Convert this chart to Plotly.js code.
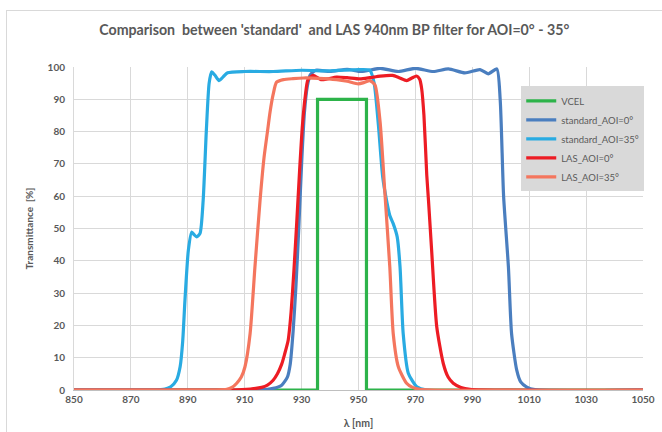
<!DOCTYPE html>
<html>
<head>
<meta charset="utf-8">
<script src="https://cdn.plot.ly/plotly-3.0.1.min.js"></script>
<style>
  html, body { margin: 0; padding: 0; background: #ffffff; }
  #frame { position: absolute; left: 6px; top: 10px; width: 700px; height: 460px; border: 1px solid #d9d9d9; box-sizing: border-box; }
  #chart { position: absolute; left: 0; top: 0; width: 662px; height: 432px; }
</style>
</head>
<body>
<div id="frame"></div>
<div id="chart"></div>
<script>
// ---- data ----
const xTickVals = [850, 870, 890, 910, 930, 950, 970, 990, 1010, 1030, 1050];
const yTickVals = [0, 10, 20, 30, 40, 50, 60, 70, 80, 90, 100];

const vcelX = [850, 935.6, 935.6, 952.8, 952.8, 1050];
const vcelY = [0, 0, 90, 90, 0, 0];

const std0X = [850, 915, 920, 923, 925, 926, 927, 928, 929, 930, 931, 932, 933, 935, 940, 946, 951, 957.6, 964, 970, 976.3, 981.6, 987.4, 992.7, 995.6, 998.6, 999.8, 1001, 1002.7, 1003.8, 1005.6, 1007, 1009, 1012, 1050];
const std0Y = [0, 0, 0.5, 1.5, 4, 8, 18, 32, 50, 70, 86, 94, 97.5, 99, 98.6, 99.3, 98.6, 99.6, 98.6, 99.6, 98.6, 99.4, 98.2, 99.2, 97.9, 99.4, 90, 60, 38, 17.5, 6.2, 2.5, 1, 0.1, 0];

const std35X = [850, 878, 882, 884, 886, 887.3, 888.2, 889, 890.2, 891.4, 892.3, 893.1, 894.3, 895.4, 896.5, 897.5, 898.4, 899.5, 901, 902.5, 904, 910, 920, 930, 940, 950, 954, 955.5, 957, 958.5, 960, 961, 962.2, 963.6, 964.6, 965.7, 967.5, 970.5, 974, 1050];
const std35Y = [0, 0, 0.3, 1, 3, 7.2, 15, 27.8, 43.3, 48.9, 48, 47.4, 48.5, 58.7, 80, 95, 98.5, 97.5, 95.8, 97, 98.2, 98.6, 98.6, 99, 98.8, 99.2, 99, 95, 82, 66, 58, 54, 51.5, 47.4, 38.1, 17.5, 5.2, 1, 0, 0];

const las0X = [850, 905, 912, 916, 918, 920, 921.5, 923, 924, 925.3, 926.3, 927.3, 928.3, 929.3, 930.3, 931.3, 932.2, 934, 936.8, 939, 942.3, 946, 950.5, 954, 957.6, 962, 964.5, 966.9, 968.8, 970.4, 971.5, 972.2, 973, 974, 974.6, 975.7, 977.5, 979.8, 981.5, 983.3, 986, 989.2, 1050];
const las0Y = [0, 0, 0.3, 0.8, 1.5, 3, 5, 8, 11, 15.5, 24, 37, 52, 68, 82, 91, 96, 97.4, 96.1, 96.3, 96.9, 96.7, 96.3, 96.7, 97.2, 97.4, 96.6, 95.8, 96.6, 97.2, 96.2, 93.3, 85, 66.5, 58.7, 43.3, 19.6, 8.2, 4, 2.1, 0.8, 0.2, 0];

const las35X = [850, 900, 903.7, 905.5, 907.2, 908.8, 910.1, 911.9, 913.6, 915.4, 916.8, 918, 918.9, 920, 921.2, 923.6, 927, 930.6, 936, 942.3, 946, 949.9, 952, 954, 955.8, 957.6, 959.2, 961, 962.2, 964, 966.9, 969, 971.6, 1050];
const las35Y = [0, 0, 0.2, 0.8, 2.1, 4, 7.2, 17.5, 38.1, 58.7, 72, 80, 86, 91.5, 95.3, 96.1, 96.4, 96.6, 96.5, 96.1, 95.6, 94.8, 95.2, 95.8, 94.4, 82.9, 62, 38.1, 17.5, 7.2, 2.1, 0.8, 0.2, 0];

const names = ['VCEL', 'standard_AOI=0°', 'standard_AOI=35°', 'LAS_AOI=0°', 'LAS_AOI=35°'];
const colors = ['#2db34a', '#4a7ebf', '#29abe2', '#ed1c24', '#f4765e'];

const xs = [vcelX, std0X, std35X, las0X, las35X];
const ys = [vcelY, std0Y, std35Y, las0Y, las35Y];

const traces = xs.map((x, i) => ({
  type: 'scatter',
  mode: 'lines',
  x: x,
  y: ys[i],
  name: names[i],
  line: { color: colors[i], width: 3.2, shape: i === 0 ? 'linear' : 'spline', smoothing: 0.6 },
  hoverinfo: 'skip'
}));

const fontFam = 'Lato, "Open Sans", sans-serif';
const txt = '#595959';

const layout = {
  width: 662,
  height: 432,
  margin: { l: 74, r: 19, t: 67, b: 42 },
  paper_bgcolor: 'rgba(0,0,0,0)',
  plot_bgcolor: '#ffffff',
  title: {
    text: "<b>Comparison  between 'standard'  and LAS 940nm BP filter for AOI=0° - 35°</b>",
    font: { family: fontFam, size: 14.2, color: txt },
    x: 0.505, xanchor: 'center', y: 0.93, yanchor: 'middle'
  },
  xaxis: {
    range: [850, 1050],
    tickmode: 'array',
    tickvals: xTickVals,
    ticktext: xTickVals.map(v => '<b>' + v + '</b>'),
    showgrid: true,
    gridcolor: '#d9d9d9',
    gridwidth: 1,
    zeroline: false,
    showline: true,
    linecolor: '#bfbfbf',
    ticks: '',
    tickfont: { family: fontFam, size: 10, color: txt },
    title: { text: '<b>λ [nm]</b>', font: { family: fontFam, size: 10.5, color: txt }, standoff: 15 },
    fixedrange: true
  },
  yaxis: {
    range: [0, 100],
    tickmode: 'array',
    tickvals: yTickVals,
    ticktext: yTickVals.map(v => '<b>' + v + '</b>'),
    showgrid: true,
    gridcolor: '#d9d9d9',
    gridwidth: 1,
    zeroline: false,
    showline: true,
    linecolor: '#d9d9d9',
    ticks: '',
    ticklabelstandoff: 6,
    tickfont: { family: fontFam, size: 10, color: txt },
    title: { text: '<b>Transmittance  [%]</b>', font: { family: fontFam, size: 10, color: txt }, standoff: 12 },
    fixedrange: true
  },
  showlegend: true,
  legend: {
    x: 0.786, xanchor: 'left',
    y: 0.94, yanchor: 'top',
    bgcolor: '#d9d9d9',
    borderwidth: 0,
    font: { family: fontFam, size: 9.5, color: txt },
    itemwidth: 30,
    tracegroupgap: 0
  }
};

Plotly.newPlot('chart', traces, layout, { displayModeBar: false, staticPlot: true });
</script>
</body>
</html>
